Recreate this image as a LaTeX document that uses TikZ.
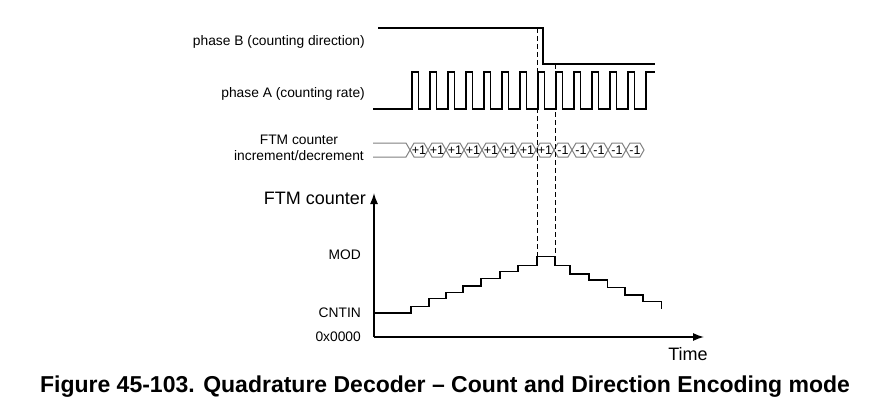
\documentclass[tikz,border=0pt]{standalone}
\usepackage{fontspec}
\setmainfont{Liberation Sans}
\usetikzlibrary{arrows.meta}
\begin{document}
\begin{tikzpicture}[x=1pt,y=-1pt,
  sig/.style={line width=1.4pt},
  lbl/.style={font=\fontsize{13.8}{16.5}\selectfont, inner sep=0pt},
  ax/.style={font=\fontsize{18}{21}\selectfont, inner sep=0pt},
  bus/.style={gray, line width=1pt},
  dsh/.style={dashed, line width=1pt, dash pattern=on 5pt off 3pt}]
\useasboundingbox (0,0) rectangle (896,412);
% labels
\node[lbl, anchor=east] (lb) at (365,42) {phase B (counting direction)};
\node[lbl, anchor=east] (la) at (365,94) {phase A (counting rate)};
\node[lbl, align=center, anchor=east] (lc) at (364,148) {FTM counter\\increment/decrement};
% phase B
\draw[sig] (378,28) -- (543,28) -- (543,64) -- (655,64);
% phase A
\draw[sig] (373,109) -- (412,109)
  \foreach \k in {0,...,12}{ -- ({412+18*\k},72) -- ({418.5+18*\k},72) -- ({418.5+18*\k},109) -- ({430+18*\k},109)}
  -- (646,109) -- (646,72) -- (655,72);
% bus
\draw[bus] (373,143) -- (406,143) -- (410,150) -- (406,157) -- (373,157);
\foreach \k in {0,...,12}{
  \pgfmathsetmacro{\a}{410+18*\k}
  \draw[bus] (\a,150) -- (\a+4,143) -- (\a+14,143) -- (\a+18,150) -- (\a+14,157) -- (\a+4,157) -- cycle;
}
\foreach \k in {0,...,7}{\node[lbl, font=\fontsize{12.5}{14}\selectfont] (p\k) at ({419+18*\k},150) {+1};}
\foreach \k in {8,...,12}{\node[lbl, font=\fontsize{12.5}{14}\selectfont] (m\k) at ({419+18*\k},150) {-1};}
% axes
\coordinate (o) at (374,337);
\coordinate (yt) at (374,193);
\coordinate (xt) at (704,337);
\draw[line width=1.4pt, -{Latex[length=11pt,width=8pt]}] (o) -- (yt);
\draw[line width=1.4pt, -{Latex[length=11pt,width=8pt]}] (o) -- (xt);
\node[ax, anchor=east] (yl) at (366,198) {FTM counter};
\node[ax] (tl) at (688,354) {Time};
\node[lbl, anchor=east] (mod) at (361,255) {MOD};
\node[lbl, anchor=east] (cn) at (361,313) {CNTIN};
\node[lbl, anchor=east] (zz) at (361,337) {0x0000};
% staircase
\draw[sig] (374,313) -- (411,313) -- (411,306.7) -- (429,306.7) -- (429,298.3) -- (446,298.3) -- (446,292.7)
 -- (463,292.7) -- (463,286) -- (481,286) -- (481,278.7) -- (500,278.7) -- (500,271.3) -- (518,271.3) -- (518,265.7)
 -- (537,265.7) -- (537,256.7) -- (555,256.7) -- (555,265.3) -- (570,265.3) -- (570,274) -- (589,274) -- (589,280)
 -- (607.7,280) -- (607.7,287.7) -- (625,287.7) -- (625,295) -- (643,295) -- (643,301.7) -- (661.7,301.7) -- (661.7,309);
% dashed
\draw[dsh] (537,28) -- (537,256.7);
\draw[dsh] (555,64) -- (555,256.7);
% caption
\node[font=\bfseries\fontsize{23}{26}\selectfont, inner sep=0pt] (cap) at (445,387) {Figure 45-103. Quadrature Decoder – Count and Direction Encoding mode};
\end{tikzpicture}
\end{document}
